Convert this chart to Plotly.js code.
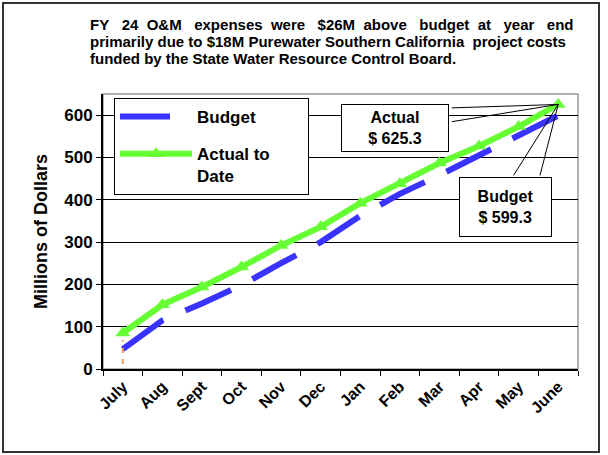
<!DOCTYPE html>
<html>
<head>
<meta charset="utf-8">
<script src="https://cdn.plot.ly/plotly-3.0.1.min.js"></script>
<style>
  html, body { margin: 0; padding: 0; background: #fff; }
  #chart { width: 608px; height: 455px; }
</style>
</head>
<body>
<div id="chart"></div>
<script>
var months = ['July', 'Aug', 'Sept', 'Oct', 'Nov', 'Dec', 'Jan', 'Feb', 'Mar', 'Apr', 'May', 'June'];
var budget = [47, 115, 155, 198, 250, 300, 362, 414, 458, 505, 553, 599.3];
var actual = [85, 152, 194, 241, 292, 336, 392, 438, 487, 527, 573, 625.3];
// little orange dashes under July
var stubX = ['July', 'July'];
var stubY = [12, 68];

var noteLines = [
  'FY\u00a0\u00a0\u00a024\u00a0\u00a0O&M\u00a0\u00a0\u00a0expenses\u00a0\u00a0were\u00a0\u00a0\u00a0$26M\u00a0\u00a0above\u00a0\u00a0\u00a0budget\u00a0\u00a0at\u00a0\u00a0\u00a0year\u00a0\u00a0\u00a0end',
  'primarily due to $18M Purewater Southern California\u00a0 project costs',
  'funded by the State Water Resource Control Board.'
];

var bold = {family: 'Liberation Sans, Arial, sans-serif', weight: 'bold', color: '#000'};
function f(size) { return Object.assign({size: size}, bold); }

// pixel helpers for the plot box (103..578, 94..369)
function px(x) { return (x - 103) / 475; }
function py(y) { return (369 - y) / 275; }

var budgetTrace = {
  x: months, y: budget,
  mode: 'lines',
  name: 'Budget',
  legendgroup: 'b',
  line: {color: '#3a33ff', width: 6, dash: '50px,24px'}
};

var actualTrace = {
  x: months, y: actual,
  mode: 'lines+markers',
  name: 'Actual to\u00a0\u00a0\u00a0\u00a0\u00a0\u00a0\u00a0<br>Date',
  legendgroup: 'a',
  line: {color: '#66ff33', width: 6},
  marker: {symbol: 'triangle-up', size: 13, color: '#66ff33'}
};

var stubTrace = {
  x: stubX, y: stubY,
  mode: 'lines',
  showlegend: false,
  line: {color: '#f59a5a', width: 2, dash: '5px,6px'}
};

var last = months.length - 1;

var notes = noteLines.map(function (t, i) {
  return {
    xref: 'paper', yref: 'paper',
    x: px(88), y: py([25, 42, 58][i]),
    xanchor: 'left', yanchor: 'middle',
    text: t, font: f(15), showarrow: false, align: 'left'
  };
});

function wedge(ax, ay) {
  return {x: months[last], y: actual[last], ax: ax, ay: ay, text: '',
          showarrow: true, arrowhead: 0, arrowwidth: 1, arrowcolor: '#000'};
}

var layout = {
  width: 608, height: 455,
  margin: {l: 103, r: 30, t: 94, b: 86},
  paper_bgcolor: '#fff',
  plot_bgcolor: '#fff',
  showlegend: true,
  font: f(14),
  xaxis: {
    type: 'category',
    range: [-0.5, 11.5],
    tickson: 'boundaries',
    ticks: 'outside', ticklen: 5, tickcolor: '#000',
    showline: true, linecolor: '#000', linewidth: 2,
    showgrid: false,
    tickangle: -45,
    tickfont: f(16)
  },
  yaxis: {
    range: [0, 650],
    dtick: 100,
    ticks: 'outside', ticklen: 5, tickcolor: '#000',
    showline: true, linecolor: '#000', linewidth: 2,
    gridcolor: '#000', gridwidth: 1,
    zeroline: false,
    tickfont: f(17),
    title: {text: 'Millions of Dollars', font: f(18), standoff: 12}
  },
  legend: {
    x: px(114), y: py(98), xanchor: 'left', yanchor: 'top',
    bgcolor: '#fff', bordercolor: '#000', borderwidth: 1,
    font: f(17),
    valign: 'top',
    itemwidth: 72,
    traceorder: 'grouped',
    tracegroupgap: 12
  },
  shapes: [
    {type: 'rect', xref: 'paper', yref: 'paper', x0: 0, x1: 1, y0: 0, y1: 1,
     line: {color: '#999', width: 1.5}, layer: 'below'},
    {type: 'rect', xref: 'paper', yref: 'paper', x0: px(3), x1: px(599), y0: py(452), y1: py(3),
     line: {color: '#333', width: 2}}
  ],
  annotations: notes.concat([
    {x: months[last], y: actual[last], ax: -163, ay: 24,
     text: 'Actual<br>$ 625.3', font: f(16), showarrow: true, arrowcolor: 'rgba(0,0,0,0)',
     bgcolor: '#fff', bordercolor: '#000', borderwidth: 1, width: 100, height: 40, borderpad: 3},
    wedge(-108, 3.5),
    wedge(-108, 17.5),
    {x: months[last], y: actual[last], ax: -52.6, ay: 102.5,
     text: 'Budget<br>$ 599.3', font: f(16), showarrow: true, arrowcolor: 'rgba(0,0,0,0)',
     bgcolor: '#fff', bordercolor: '#000', borderwidth: 1, width: 85, height: 52, borderpad: 3},
    wedge(-45.6, 72.5),
    wedge(-18.6, 72.5)
  ])
};

Plotly.newPlot('chart', [budgetTrace, actualTrace, stubTrace], layout, {displayModeBar: false, staticPlot: true});
</script>
</body>
</html>
